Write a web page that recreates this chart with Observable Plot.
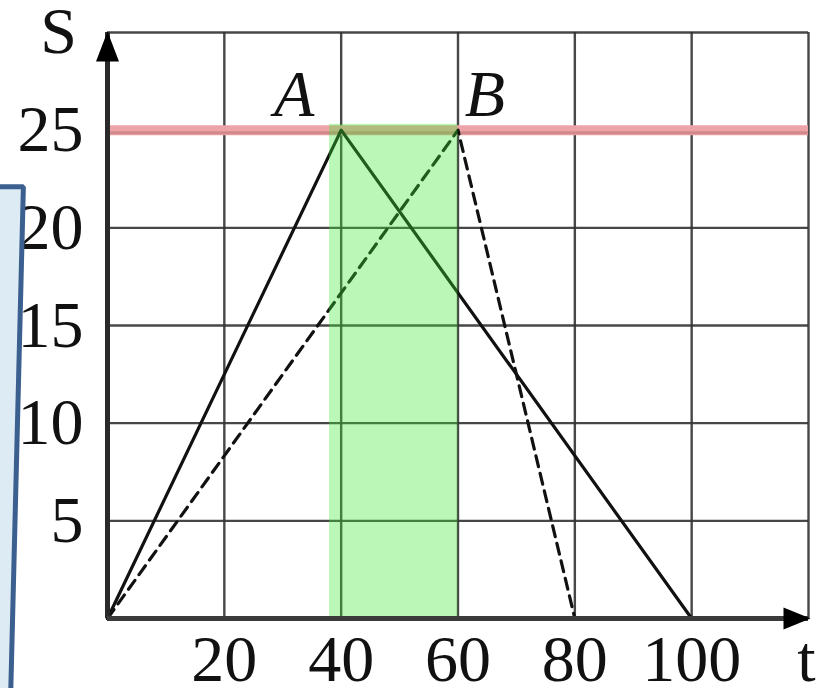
<!DOCTYPE html>
<html>
<head>
<meta charset="utf-8">
<script src="https://cdn.jsdelivr.net/npm/d3@7"></script>
<script src="https://cdn.jsdelivr.net/npm/@observablehq/plot@0.6"></script>
<style>
  html, body { margin: 0; padding: 0; background: #fff; }
</style>
</head>
<body>
<div id="chart"></div>
<script>
// ---- data ----
const xTicks = [20, 40, 60, 80, 100];
const yTicks = [5, 10, 15, 20, 25];
const xGrid = [20, 40, 60, 80, 100, 120];
const yGrid = [5, 10, 15, 20, 25, 30];
const solidT = [0, 40, 100];
const solidS = [0, 25, 0];
const dashedT = [0, 60, 80];
const dashedS = [0, 25, 0];
const levelS = 25;
const bandT = [38, 60];
const bandS = [0, 25.3];
const pointLabels = ["A", "B"];
const pointT = [40, 60];
const pointS = [25, 25];
const boxT = [-20, -14.4, -16.6, -20, -20];
const boxS = [22.1, 22.1, -4.2, -4.2, 22.1];

const solid = solidT.map((t, i) => ({t, s: solidS[i]}));
const dashed = dashedT.map((t, i) => ({t, s: dashedS[i]}));
const points = pointLabels.map((l, i) => ({l, t: pointT[i], s: pointS[i]}));
const box = boxT.map((t, i) => ({t, s: boxS[i]}));

const font = "'Liberation Serif', 'Times New Roman', serif";
const upArrow = { draw(ctx) { ctx.moveTo(0, -1); ctx.lineTo(-11.5, 29); ctx.lineTo(11.5, 29); ctx.closePath(); } };
const rightArrow = { draw(ctx) { ctx.moveTo(2, 0); ctx.lineTo(-25, -11); ctx.lineTo(-25, 11); ctx.closePath(); } };

const chart = Plot.plot({
  width: 825,
  height: 688,
  marginLeft: 107,
  marginRight: 17,
  marginTop: 32,
  marginBottom: 70,
  x: {domain: [0, 120], axis: null},
  y: {domain: [0, 30], axis: null},
  style: {background: "#fff", fontFamily: font},
  marks: [
    Plot.ruleX(xGrid, {stroke: "#333", strokeWidth: 2.4, strokeOpacity: 0.9}),
    Plot.ruleY(yGrid, {stroke: "#333", strokeWidth: 2.4, strokeOpacity: 0.9}),
    Plot.ruleY([levelS], {stroke: "#eea3a8", strokeWidth: 10}),
    Plot.ruleY([levelS], {dy: 2.5, stroke: "#c07878", strokeWidth: 3, strokeOpacity: 0.6}),
    Plot.line(solid, {x: "t", y: "s", stroke: "#111", strokeWidth: 3.2}),
    Plot.line(dashed, {x: "t", y: "s", stroke: "#111", strokeWidth: 3.2, strokeDasharray: "11,7"}),
    Plot.rectY([{a: bandT[0], b: bandT[1], lo: bandS[0], hi: bandS[1]}], {x1: "a", x2: "b", y1: "lo", y2: "hi", fill: "rgb(61,232,47)", fillOpacity: 0.35}),
    Plot.ruleX([0], {stroke: "#2a2a2a", strokeWidth: 5}),
    Plot.ruleY([0], {stroke: "#3a3a3a", strokeWidth: 5}),
    Plot.dot([{t: 0, s: 30}], {x: "t", y: "s", symbol: upArrow, fill: "#000", stroke: "none", r: 5}),
    Plot.dot([{t: 120, s: 0}], {x: "t", y: "s", symbol: rightArrow, fill: "#000", stroke: "none", r: 5}),
    Plot.text(xTicks, {x: d => d, y: 0, text: d => String(d), lineAnchor: "middle", dy: 41, fontSize: 66, fill: "#111"}),
    Plot.text(["t"], {x: 120, y: 0, text: d => d, lineAnchor: "middle", dy: 41, dx: -2, fontSize: 66, fill: "#111"}),
    Plot.text(yTicks, {x: 0, y: d => d, text: d => String(d), textAnchor: "end", lineAnchor: "middle", dx: -24, fontSize: 66, fill: "#111"}),
    Plot.text(["S"], {x: 0, y: 30, text: d => d, textAnchor: "middle", lineAnchor: "middle", dx: -49, dy: -1, fontSize: 66, fill: "#111"}),
    Plot.text(points.filter(p => p.l === "A"), {x: "t", y: "s", text: "l", textAnchor: "middle", lineAnchor: "middle", dx: -47, dy: -35, fontSize: 66, fontStyle: "italic", fill: "#111"}),
    Plot.text(points.filter(p => p.l === "B"), {x: "t", y: "s", text: "l", textAnchor: "middle", lineAnchor: "middle", dx: 27, dy: -35, fontSize: 66, fontStyle: "italic", fill: "#111"}),
    Plot.line(box, {x: "t", y: "s", fill: "#dcebf4", stroke: "#3b5f8e", strokeWidth: 5, strokeLinejoin: "miter"})
  ]
});
document.getElementById("chart").appendChild(chart);
</script>
</body>
</html>
